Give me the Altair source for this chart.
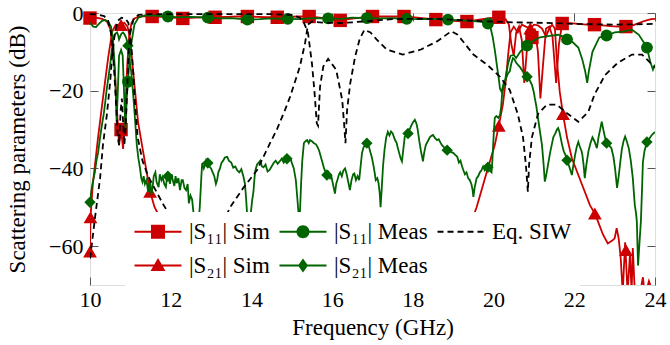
import altair as alt
import pandas as pd

RED = "#cc0000"
GREEN = "#006400"
BLACK = "#000000"
FONT = "Liberation Serif"

X_DOMAIN = [10, 24]
Y_DOMAIN = [-70, 0]
X_TICKS = [10, 12, 14, 16, 18, 20, 22, 24]
Y_TICKS = [0, -20, -40, -60]
W, H = 565, 272

SERIES = ["|S₁₁| Sim", "|S₁₁| Meas", "Eq. SIW", "|S₂₁| Sim", "|S₂₁| Meas"]

# ---------------- |S11| Sim ----------------
S11_SIM_F = [10.0, 10.15, 10.3, 10.42, 10.5, 10.56, 10.62, 10.68, 10.72, 10.77,
             10.82, 10.87, 10.92, 10.97, 11.03, 11.1, 11.2, 11.35, 11.54, 11.8,
             12.05, 12.3, 12.6, 12.85, 13.1, 13.4, 13.65, 13.9, 14.15, 14.4,
             14.64, 14.9, 15.15, 15.43, 15.7, 15.95, 16.2, 16.45, 16.75, 17.0,
             17.3, 17.55, 17.78, 18.05, 18.3, 18.57, 18.85, 19.1, 19.34, 19.6,
             19.9, 20.13, 20.3, 20.38, 20.44, 20.5, 20.56, 20.63, 20.7, 20.76,
             20.83, 20.9, 20.95, 21.02, 21.1, 21.16, 21.22, 21.3, 21.38, 21.46,
             21.55, 21.62, 21.7, 21.9, 22.1, 22.3, 22.5, 22.7, 22.9, 23.1,
             23.28, 23.45, 23.6, 23.75, 23.9, 24.0]
S11_SIM_V = [-1.3, -1.2, -1.5, -2.2, -4, -8, -16, -27, -34, -30,
             -35, -26, -14, -6, -2.5, -1.4, -1.0, -0.8, -0.9, -1.0,
             -1.2, -1.4, -1.2, -1.1, -1.1, -1.0, -0.9, -0.9, -1.0, -1.1,
             -1.1, -1.0, -0.9, -0.9, -1.2, -1.7, -1.9, -1.5, -1.1, -0.9,
             -0.9, -0.9, -0.9, -1.1, -1.4, -1.7, -1.9, -2.1, -2.2, -1.8,
             -1.3, -1.1, -1.6, -3, -8, -11, -5, -3.5, -7, -18,
             -9, -5, -6.3, -4, -10, -22, -14, -4, -3.5, -6,
             -18, -8, -2.7, -2.6, -2.8, -3.0, -3.0, -3.2, -3.4, -3.5,
             -3.5, -3.2, -2.6, -2.0, -1.6, -1.5]
S11_SIM_MF = [10.0, 10.77, 11.54, 12.3, 13.1, 13.9, 14.64, 15.43, 16.2, 17.0,
              17.78, 18.57, 19.34, 20.13, 20.95, 21.7, 22.5, 23.28]
S11_SIM_MV = [-1.3, -30, -0.9, -1.4, -1.1, -0.9, -1.1, -0.9, -1.9, -0.9,
              -0.9, -1.7, -2.2, -1.1, -6.3, -2.7, -3.0, -3.5]

# ---------------- |S21| Sim ----------------
S21_SIM_F = [10.0, 10.012, 10.07, 10.2, 10.32, 10.45, 10.55, 10.64, 10.77, 10.85,
             10.93, 10.99, 11.07, 11.19, 11.36, 11.49, 11.6, 11.9, 12.3, 12.6,
             12.8, 13.5, 14.5, 15.5, 16.1, 16.2, 16.3, 16.6, 17.5, 18.3,
             18.6, 19.0, 19.3, 19.58, 19.83, 20.03, 20.13, 20.23, 20.3, 20.36,
             20.42, 20.5, 20.6, 20.7, 20.8, 20.91, 21.0, 21.1, 21.2, 21.3,
             21.38, 21.45, 21.52, 21.57, 21.64, 21.72, 21.82, 21.94, 22.1, 22.26,
             22.39, 22.51, 22.6, 22.71, 22.83, 22.95, 23.0, 23.05, 23.1, 23.15,
             23.2, 23.26, 23.32, 23.38, 23.42, 23.45, 23.5, 23.6, 23.7, 23.75,
             23.85, 23.95, 24.0]
S21_SIM_V = [-61.4, -52.6, -44, -32, -22, -11.5, -4.8, -3, -3.1, -2.5,
             -3.5, -6.3, -15, -28, -38.3, -46, -50, -56, -63, -69.5,
             -72, -75, -74, -73, -69.5, -72, -69.5, -73, -73, -69.5,
             -70.5, -66, -58, -50, -41, -34, -29, -23.6, -17.7, -10.8,
             -5, -3.5, -5, -3, -3.5, -4, -3, -3.2, -4, -6,
             -4, -3, -4, -12.5, -20.3, -26, -32, -37.4, -41.7, -46,
             -49.5, -51.6, -54, -57, -59.3, -58.5, -58, -55.4, -58, -63,
             -72, -59, -72, -62, -72, -60.5, -72, -74, -68, -73,
             -69, -72, -71]
S21_SIM_MF = [10.0, 10.012, 10.77, 11.49, 20.13, 20.91, 21.72, 22.51, 23.28]
S21_SIM_MV = [-61.4, -52.6, -3.1, -46, -29, -4, -26, -51.6, -61]

# ---------------- |S11| Meas ----------------
S11_MEAS_F = [10.0, 10.08, 10.15, 10.22, 10.3, 10.38, 10.45, 10.52, 10.57, 10.62,
              10.66, 10.69, 10.72, 10.77, 10.81, 10.85, 10.88, 10.91, 10.94, 10.98,
              11.03, 11.1, 11.2, 11.35, 11.6, 11.93, 12.2, 12.5, 12.92, 13.2,
              13.5, 13.9, 14.2, 14.5, 14.9, 15.2, 15.5, 15.9, 16.2, 16.5,
              16.86, 17.2, 17.5, 17.85, 18.2, 18.5, 18.87, 19.2, 19.5, 19.7,
              19.86, 19.93, 19.98, 20.03, 20.08, 20.13, 20.16, 20.2, 20.25, 20.28,
              20.36, 20.42, 20.5, 20.56, 20.66, 20.75, 20.83, 20.95, 21.1, 21.15,
              21.3, 21.45, 21.6, 21.7, 21.82, 21.95, 22.1, 22.2, 22.27, 22.32,
              22.36, 22.45, 22.62, 22.8, 23.0, 23.2, 23.43, 23.6, 23.72, 23.8,
              23.88, 23.95, 24.0]
S11_MEAS_V = [-2.5, -3.5, -3.6, -2.8, -2.0, -1.8, -2.3, -3.5, -7, -15,
              -28, -20, -11, -9.5, -11, -22, -30, -22, -17.7, -12,
              -7.4, -3, -1.2, -0.6, -0.7, -0.9, -1.1, -1.0, -1.2, -1.4,
              -1.3, -1.7, -1.6, -1.4, -1.5, -1.6, -1.3, -1.4, -1.5, -1.2,
              -1.3, -1.4, -1.3, -1.5, -1.6, -1.5, -1.7, -1.9, -2.1, -2.3,
              -2.7, -4, -6.3, -9.5, -13.3, -17, -19.5, -20.3, -18, -17.7,
              -13, -11, -10.8, -11.6, -10, -9, -8.4, -7.4, -6.5, -6.3,
              -6, -5.8, -5.6, -6, -6.8, -7.4, -8.9, -12, -15, -18,
              -15, -10, -6.3, -5.8, -5, -4.8, -4.3, -5.6, -7.5, -8.9,
              -12.5, -14.6, -13.3]
S11_MEAS_MF = [10.94, 11.93, 12.92, 13.9, 14.9, 15.9, 16.86, 17.85, 18.87, 19.86,
               20.83, 21.82, 22.8, 23.8]
S11_MEAS_MV = [-17.7, -0.9, -1.2, -1.7, -1.5, -1.4, -1.3, -1.5, -1.7, -2.7,
               -8.4, -6.8, -5.8, -8.9]

# ---------------- |S21| Meas ----------------
S21_MEAS_F = [10.00, 10.03, 10.06, 10.09, 10.12, 10.16, 10.20, 10.25, 10.30, 10.34,
              10.37, 10.41, 10.45, 10.50, 10.54, 10.57, 10.60, 10.63, 10.67, 10.70,
              10.72, 10.75, 10.78, 10.82, 10.86, 10.90, 10.94, 10.98, 11.02, 11.05,
              11.09, 11.12, 11.16, 11.20, 11.24, 11.27, 11.30, 11.33, 11.36, 11.40,
              11.44, 11.47, 11.49, 11.52, 11.55, 11.58, 11.62, 11.65, 11.70, 11.73,
              11.77, 11.80, 11.84, 11.88, 11.91, 11.95, 11.98, 12.02, 12.05, 12.09,
              12.12, 12.15, 12.19, 12.23, 12.27, 12.30, 12.34, 12.38, 12.42, 12.45,
              12.49, 12.53, 12.57, 12.62, 12.68, 12.72, 12.76, 12.78, 12.82, 12.85,
              12.88, 12.92, 12.96, 13.00, 13.04, 13.08, 13.12, 13.15, 13.18, 13.22,
              13.26, 13.30, 13.34, 13.40, 13.44, 13.50, 13.55, 13.60, 13.65, 13.70,
              13.75, 13.80, 13.84, 13.87, 13.90, 13.94, 13.98, 14.02, 14.05, 14.08,
              14.10, 14.14, 14.18, 14.22, 14.26, 14.30, 14.35, 14.40, 14.45, 14.50,
              14.55, 14.60, 14.65, 14.70, 14.75, 14.80, 14.85, 14.88, 14.92, 14.96,
              15.00, 15.05, 15.10, 15.14, 15.17, 15.20, 15.23, 15.26, 15.30, 15.34,
              15.38, 15.42, 15.45, 15.50, 15.55, 15.60, 15.64, 15.68, 15.72, 15.76,
              15.80, 15.84, 15.87, 15.91, 15.95, 15.98, 16.02, 16.05, 16.07, 16.10,
              16.13, 16.17, 16.20, 16.24, 16.28, 16.32, 16.36, 16.40, 16.44, 16.48,
              16.52, 16.55, 16.59, 16.63, 16.67, 16.70, 16.74, 16.78, 16.82, 16.86,
              16.90, 16.94, 16.98, 17.02, 17.06, 17.08, 17.12, 17.15, 17.18, 17.20,
              17.23, 17.26, 17.30, 17.34, 17.38, 17.42, 17.46, 17.50, 17.55, 17.60,
              17.62, 17.66, 17.70, 17.73, 17.77, 17.80, 17.84, 17.88, 17.92, 17.96,
              18.00, 18.05, 18.09, 18.12, 18.16, 18.20, 18.25, 18.28, 18.32, 18.37,
              18.42, 18.46, 18.50, 18.55, 18.60, 18.64, 18.68, 18.72, 18.77, 18.81,
              18.85, 18.90, 18.95, 19.00, 19.05, 19.10, 19.14, 19.18, 19.22, 19.25,
              19.29, 19.33, 19.37, 19.41, 19.45, 19.48, 19.50, 19.53, 19.56, 19.58,
              19.62, 19.66, 19.70, 19.74, 19.78, 19.82, 19.86, 19.90, 19.95, 19.97,
              19.99, 20.01, 20.03, 20.07, 20.12, 20.16, 20.19, 20.21, 20.25, 20.28,
              20.32, 20.36, 20.40, 20.44, 20.48, 20.52, 20.56, 20.60, 20.66, 20.72,
              20.78, 20.83, 20.88, 20.95, 21.00, 21.02, 21.06, 21.10, 21.15, 21.20,
              21.24, 21.27, 21.30, 21.35, 21.40, 21.44, 21.48, 21.53, 21.57, 21.60,
              21.63, 21.66, 21.70, 21.74, 21.78, 21.82, 21.86, 21.89, 21.94, 21.98,
              22.02, 22.06, 22.10, 22.14, 22.18, 22.20, 22.23, 22.26, 22.30, 22.35,
              22.40, 22.45, 22.50, 22.56, 22.60, 22.64, 22.68, 22.72, 22.76, 22.80,
              22.86, 22.92, 22.97, 23.01, 23.06, 23.10, 23.14, 23.18, 23.22, 23.26,
              23.30, 23.35, 23.40, 23.45, 23.50, 23.53, 23.55, 23.58, 23.61, 23.65,
              23.68, 23.70, 23.74, 23.78, 23.80, 23.85, 23.92, 23.96, 24.00]
S21_MEAS_V = [-48.7, -46, -44, -42.5, -41, -38, -36, -32, -28.5, -26,
              -23.6, -20, -17, -13.3, -9.5, -7.4, -6, -5.3, -5, -5.8,
              -6.8, -6, -5.3, -5, -5.6, -6.5, -8.4, -12, -15, -18.5,
              -23.6, -28, -34, -37.5, -40, -42.5, -43.5, -42, -44, -43,
              -46, -44, -43, -46.8, -45, -42, -41, -43.5, -44.8, -41.5,
              -43, -42.2, -44, -44.8, -42, -42, -44, -41.5, -43, -44.5,
              -42, -43.8, -42.5, -45.6, -43, -43, -45, -45.6, -44, -49,
              -47, -48, -52, -56, -55, -50, -42, -38.6, -40, -39,
              -37.8, -38.6, -39.5, -40, -41, -42, -44, -43, -41, -40,
              -38.5, -38, -37.2, -37, -38, -38.5, -39.8, -39.5, -40.5, -41,
              -40.2, -42, -44, -48, -53, -55, -52, -48, -46, -42,
              -40.4, -39, -38.5, -38, -39.5, -39.7, -39, -40.8, -40.4, -39.5,
              -38.6, -38, -38.8, -38.2, -37.5, -38.5, -37.5, -37.5, -37, -37.2,
              -38.5, -40, -43, -48, -52, -52, -44, -38, -33.5, -33,
              -32.7, -33.5, -32.7, -33, -33.5, -33.8, -34.5, -35.5, -37, -38.5,
              -40, -41, -41.7, -41, -42.5, -42, -44, -45.5, -46.5, -44,
              -43, -41.5, -41, -42, -40.5, -40, -41.5, -43.5, -45.6, -43,
              -41.5, -41.3, -43, -42, -43, -40, -36, -34.5, -34, -33.5,
              -34, -35.5, -37, -39, -41.5, -43, -42.5, -43.8, -46.5, -50,
              -45, -39.5, -35, -32, -30.6, -31.5, -30.5, -31, -32.5, -33.5,
              -34.4, -36, -37.5, -38.2, -34.5, -31.8, -31.5, -31, -30, -29,
              -28.2, -27.5, -28.5, -30, -33, -35.5, -38.2, -36, -34, -33,
              -32, -31.6, -31.4, -32.2, -32.7, -32.5, -33.3, -34, -34.5, -35,
              -35.3, -35.5, -35.8, -36, -36.5, -37, -38.5, -38, -39.5, -40.4,
              -41.5, -41, -42.5, -43, -44, -45.5, -47.3, -45, -43.5, -42.5,
              -42, -41, -40.5, -39.5, -40.5, -40, -39.7, -40.5, -41, -38,
              -34, -30, -27, -26.5, -27, -26.2, -24, -21, -19, -17.7,
              -16.5, -15.5, -15, -13, -11.6, -12, -12.8, -13.3, -14, -15,
              -15.8, -16.4, -17, -18.5, -20.5, -21.8, -24, -27, -30.5, -34,
              -39, -43.4, -42, -39, -36, -34, -32, -31, -30, -29.6,
              -30.5, -32, -34, -35.6, -36.5, -37.9, -39, -40, -41.7, -39,
              -36.5, -34.5, -33.2, -34.5, -35.5, -36.5, -39, -42.5, -39, -35.6,
              -33.5, -32, -33, -34.8, -32, -30, -28, -30, -32, -33.5,
              -34, -34.8, -37, -40, -45, -42, -38.4, -35, -33, -31.8,
              -33, -34.8, -38, -42.5, -49.5, -51.5, -53.7, -65, -60, -53.7,
              -45, -38.4, -35.5, -34, -33.2, -32.5, -31.4, -31, -30.6]
S21_MEAS_MF = [10.0, 10.94, 11.93, 12.92, 13.9, 14.88, 15.87, 16.86, 17.88, 18.85,
               19.86, 20.83, 21.82, 22.8, 23.8]
S21_MEAS_MV = [-48.7, -8.4, -42, -38.6, -53, -37.5, -41.7, -33.5, -31, -35.3,
               -39.7, -16.4, -37.9, -33.5, -33.2]

# ---------------- Eq. SIW (two traces) ----------------
EQ_A_F = [10.0, 10.04, 10.12, 10.25, 10.32, 10.42, 10.5, 10.55, 10.62, 10.69,
          10.78, 10.88, 10.95, 11.02, 11.07, 11.1, 11.18, 11.3, 11.44, 11.8,
          12.2, 12.7, 13.1, 13.3, 13.47, 13.8, 14.14, 14.46, 14.63, 14.83,
          14.96, 15.2, 15.33, 15.4, 15.5, 15.8, 16.2, 16.5, 17.0, 17.5,
          18.0, 18.5, 19.0, 19.5, 20.0, 20.5, 21.0, 21.5, 22.0, 22.5,
          23.0, 23.5, 24.0]
EQ_A_V = [-63.2, -60, -53, -42.5, -34, -26, -17.7, -10.8, -4.8, -2,
          -1.2, -1.5, -2.5, -8, -15, -21, -32, -38, -42, -49,
          -56, -62, -58, -54, -50, -45, -40.4, -33.5, -30, -25,
          -21.5, -13.8, -7.7, -3, -2.2, -2.5, -2.6, -2.4, -2.0, -1.6,
          -1.5, -1.5, -1.7, -2.0, -2.2, -2.4, -2.5, -2.6, -2.8, -2.9,
          -3.0, -2.9, -2.8]
EQ_B_F = [10.0, 10.2, 10.35, 10.45, 10.52, 10.58, 10.64, 10.69, 10.72, 10.76,
          10.79, 10.82, 10.85, 10.88, 10.92, 10.96, 11.0, 11.08, 11.2, 11.5,
          12.5, 13.5, 14.5, 15.0, 15.2, 15.3, 15.4, 15.5, 15.56, 15.62,
          15.65, 15.7, 15.78, 15.9, 16.1, 16.25, 16.3, 16.33, 16.37, 16.45,
          16.57, 16.68, 16.8, 16.95, 17.1, 17.35, 17.75, 18.2, 18.6, 18.95,
          19.1, 19.25, 19.5, 19.84, 20.16, 20.4, 20.6, 20.73, 20.8, 20.85,
          20.88, 20.95, 21.1, 21.32, 21.57, 21.77, 22.1, 22.35, 22.5, 22.76,
          23.08, 23.43, 23.68, 23.93, 24.0]
EQ_B_V = [-0.3, -0.4, -0.8, -2, -5, -12, -22, -32, -34, -25,
          -22, -28, -34, -30, -20, -10, -5, -1.5, -0.5, -0.3,
          -0.3, -0.3, -0.3, -0.5, -1.2, -2.5, -5, -13, -20, -28.4,
          -29, -19, -13.8, -11.8, -14.6, -22.4, -29, -33.5, -25, -18,
          -11.2, -6.8, -4.3, -5, -6.8, -9.4, -10.7, -9.4, -7.3, -4.7,
          -5.5, -7.4, -10.7, -13.3, -16.4, -19.8, -26, -32, -39, -46,
          -39, -32, -26, -23.6, -23.6, -25.4, -28, -25.4, -21, -16,
          -12.8, -10.7, -10.7, -13.3, -14]

COLORS = [RED, GREEN, BLACK, RED, GREEN]
# legend symbols (custom paths; unit = 10 px, box is [-1, 1]):
# a 47 px line starting at the box's left edge, with the series marker at its middle
LINE = "M-1,-0.1H3.7V0.1H-1Z"
SYMBOLS = [
    LINE + "M0.65,-0.7H2.05V0.7H0.65Z",
    LINE + "M0.7,0A0.65,0.65,0,1,1,2.0,0A0.65,0.65,0,1,1,0.7,0Z",
    "M-1,-0.1H-0.4V0.1H-1ZM0,-0.1H0.6V0.1H0ZM1,-0.1H1.6V0.1H1Z"
    "M2,-0.1H2.6V0.1H2ZM3,-0.1H3.6V0.1H3Z",
    LINE + "M1.35,-0.75L2.1,0.55H0.6Z",
    LINE + "M1.35,-0.7L1.85,0L1.35,0.7L0.85,0Z",
]


def frame(f, v):
    return pd.DataFrame({"f": f, "v": v})


xs = alt.Scale(domain=X_DOMAIN, nice=False, zero=False)
ys = alt.Scale(domain=Y_DOMAIN, nice=False, zero=False)


def tick_axis(orient, offset, values):
    return alt.Axis(orient=orient, offset=offset, values=values, labels=False,
                    domain=False, grid=False, ticks=True, tickSize=8,
                    tickColor="#555555", tickWidth=1, title=None)


x_label_axis = alt.Axis(values=X_TICKS, ticks=False, domain=False, grid=False,
                        labelFont=FONT, labelFontSize=22, labelColor="black",
                        labelPadding=4, labelFlush=False, labelOverlap=False,
                        labelBound=False,
                        title="Frequency (GHz)", titleFont=FONT,
                        titleFontSize=23, titleFontWeight="normal",
                        titleColor="black", titlePadding=6)
y_label_axis = alt.Axis(values=Y_TICKS, ticks=False, domain=False, grid=False,
                        labelFont=FONT, labelFontSize=22, labelColor="black",
                        labelPadding=7, labelFlush=False, labelOverlap=False,
                        labelBound=False,
                        title="Scattering parameters (dB)",
                        titleFont=FONT, titleFontSize=23,
                        titleFontWeight="normal", titleColor="black",
                        titlePadding=19)


def enc(xaxis=None, yaxis=None):
    return dict(x=alt.X("f:Q", scale=xs, axis=xaxis),
                y=alt.Y("v:Q", scale=ys, axis=yaxis))


def line(df, color, **kw):
    extra = {}
    if "dash" in kw:
        extra["strokeDash"] = kw.pop("dash")
    e = enc(kw.pop("xaxis", None), kw.pop("yaxis", None))
    if "detail" in kw:
        e["detail"] = kw.pop("detail")
    return alt.Chart(df).mark_line(clip=True, strokeWidth=1.8, color=color,
                                   **extra).encode(**e)


def marks(df, color, shape, size, xaxis=None, yaxis=None):
    return alt.Chart(df).mark_point(shape=shape, filled=True, opacity=1,
                                    size=size, color=color).encode(
        **enc(xaxis, yaxis))


eq_df = pd.concat([
    frame(EQ_A_F, EQ_A_V).assign(part="a"),
    frame(EQ_B_F, EQ_B_V).assign(part="b"),
])

legend = alt.Legend(title=None, orient="none", legendX=35, legendY=199,
                    direction="horizontal", columns=3, symbolSize=400,
                    symbolStrokeWidth=0, labelFont=FONT, labelFontSize=23,
                    labelColor="black", labelOffset=33, fillColor="white",
                    padding=8, rowPadding=10, columnPadding=8,
                    symbolLimit=0, labelLimit=0)

legend_layer = alt.Chart(pd.DataFrame({"series": SERIES})).mark_point(
    filled=True, opacity=1, size=400).encode(
    color=alt.Color("series:N", scale=alt.Scale(domain=SERIES, range=COLORS),
                    legend=legend),
    shape=alt.Shape("series:N", scale=alt.Scale(domain=SERIES, range=SYMBOLS),
                    legend=legend),
).transform_filter("false")

layers = [
    line(frame(S11_SIM_F, S11_SIM_V), RED, xaxis=x_label_axis, yaxis=y_label_axis),
    marks(frame(S11_SIM_MF, S11_SIM_MV), RED, "square", 180,
          xaxis=tick_axis("top", -H, X_TICKS)),
    line(frame(S21_SIM_F, S21_SIM_V), RED),
    marks(frame(S21_SIM_MF, S21_SIM_MV), RED, "triangle-up", 190,
          xaxis=tick_axis("bottom", -H, X_TICKS)),
    line(frame(S11_MEAS_F, S11_MEAS_V), GREEN),
    marks(frame(S11_MEAS_MF, S11_MEAS_MV), GREEN, "circle", 140,
          yaxis=tick_axis("right", -W, Y_TICKS)),
    line(frame(S21_MEAS_F, S21_MEAS_V), GREEN),
    marks(frame(S21_MEAS_MF, S21_MEAS_MV), GREEN, "diamond", 130,
          yaxis=tick_axis("left", -W, Y_TICKS)),
    line(eq_df, BLACK, dash=[6, 4], detail="part:N"),
    legend_layer,
]

chart = alt.layer(*layers).resolve_axis(
    x="independent", y="independent"
).properties(
    width=W, height=H,
    padding={"left": 90, "top": 13, "right": 15, "bottom": 60},
    autosize=alt.AutoSizeParams(type="none"),
).configure_view(stroke="black", strokeWidth=1).configure(background="white")

chart.save("out.html", embed_options={"renderer": "svg", "actions": False})
